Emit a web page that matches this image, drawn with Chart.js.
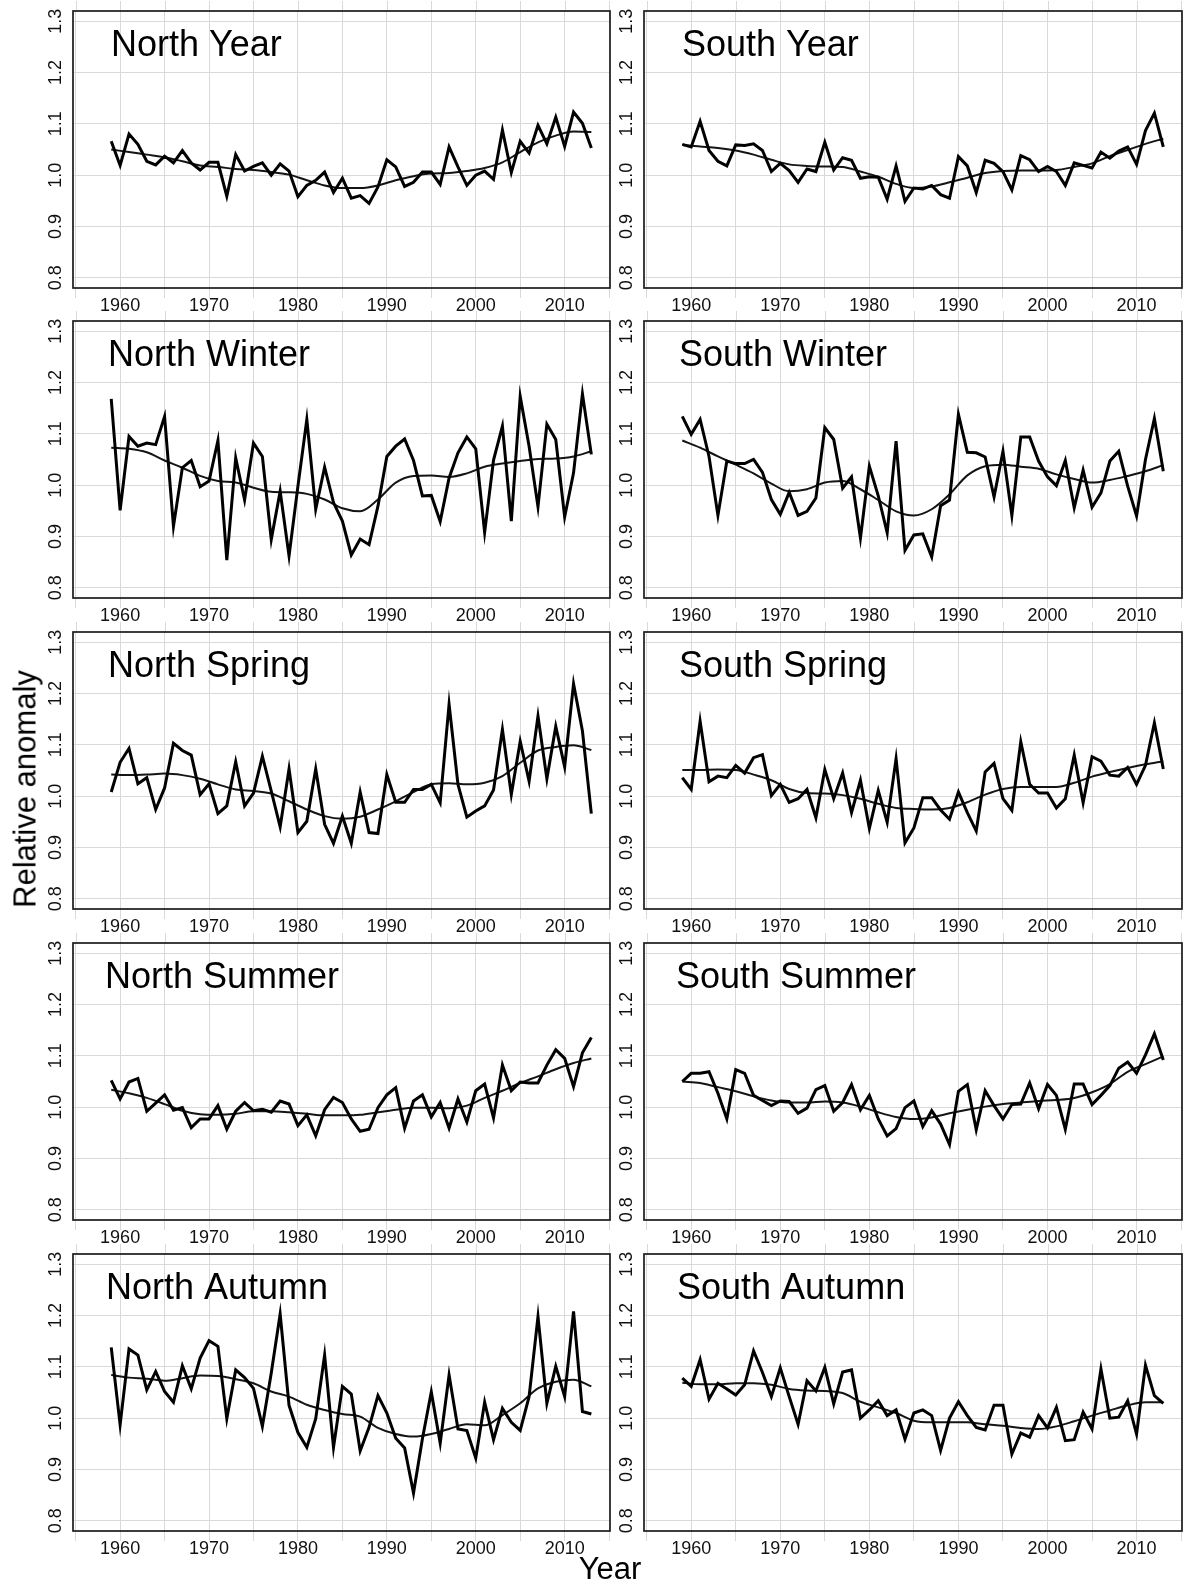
<!DOCTYPE html>
<html><head><meta charset="utf-8">
<script src="https://cdn.jsdelivr.net/npm/chart.js@4"></script>
<style>
html,body{margin:0;padding:0;background:#fff;}
#wrap{position:relative;width:1185px;height:1584px;overflow:hidden;background:#fff;}
#wrap canvas{position:absolute;}
.lab{position:absolute;font-family:"Liberation Sans",Arial,Helvetica,sans-serif;color:#000;white-space:nowrap;line-height:1;font-size:31px;}
</style></head><body><div id="wrap"></div>
<script>
// ---------- DATA ----------
const years = [1959,1960,1961,1962,1963,1964,1965,1966,1967,1968,1969,1970,1971,1972,1973,1974,1975,1976,1977,1978,1979,1980,1981,1982,1983,1984,1985,1986,1987,1988,1989,1990,1991,1992,1993,1994,1995,1996,1997,1998,1999,2000,2001,2002,2003,2004,2005,2006,2007,2008,2009,2010,2011,2012,2013];
const smoothYears = [1959,1961,1963,1965,1967,1969,1971,1973,1975,1977,1979,1981,1983,1985,1987,1989,1991,1993,1995,1997,1999,2001,2003,2005,2007,2009,2011,2013];
const xTickLabels = ['1960','1970','1980','1990','2000','2010'];
const yTickValues = [0.8,0.9,1.0,1.1,1.2,1.3];
const yTickLabels = ['0.8','0.9','1.0','1.1','1.2','1.3'];
const titles = ['North Year','South Year','North Winter','South Winter','North Spring','South Spring','North Summer','South Summer','North Autumn','South Autumn'];

const northYear = [1.066,1.019,1.080,1.060,1.027,1.020,1.037,1.024,1.048,1.024, 1.010,1.025,1.025,0.959,1.040,1.008,1.017,1.024,1.000,1.022, 1.008,0.958,0.980,0.990,1.006,0.966,0.994,0.955,0.960,0.945, 0.977,1.030,1.016,0.978,0.986,1.006,1.006,0.982,1.055,1.016, 0.980,1.000,1.008,0.992,1.088,1.005,1.066,1.043,1.097,1.061, 1.113,1.056,1.123,1.101,1.053];
const northYearSmooth = [1.050,1.045,1.040,1.035,1.027,1.019,1.016,1.012,1.010,1.006,1.001,0.990,0.980,0.975,0.975,0.980,0.990,0.998,1.003,1.004,1.008,1.014,1.025,1.045,1.064,1.077,1.085,1.084];

const southYear = [1.060,1.055,1.105,1.048,1.027,1.018,1.059,1.058,1.061,1.048, 1.007,1.023,1.009,0.986,1.012,1.007,1.064,1.010,1.034,1.029, 0.994,0.997,0.996,0.953,1.018,0.949,0.975,0.973,0.980,0.962, 0.955,1.036,1.018,0.966,1.029,1.023,1.007,0.971,1.038,1.030, 1.007,1.017,1.007,0.980,1.024,1.019,1.014,1.045,1.033,1.047, 1.055,1.021,1.087,1.121,1.055];
const southYearSmooth = [1.059,1.056,1.053,1.048,1.040,1.030,1.021,1.018,1.017,1.016,1.007,0.997,0.983,0.975,0.978,0.986,0.995,1.004,1.008,1.009,1.009,1.010,1.016,1.023,1.037,1.049,1.061,1.071];

const northWinter = [1.168,0.951,1.095,1.076,1.082,1.079,1.134,0.920,1.034,1.048, 0.997,1.008,1.087,0.854,1.053,0.971,1.082,1.056,0.894,0.988, 0.862,0.998,1.128,0.953,1.035,0.966,0.930,0.864,0.895,0.884, 0.959,1.056,1.076,1.090,1.048,0.979,0.980,0.929,1.014,1.063, 1.094,1.071,0.908,1.049,1.115,0.930,1.173,1.076,0.958,1.119, 1.089,0.938,1.024,1.178,1.060];
const northWinterSmooth = [1.073,1.071,1.064,1.048,1.034,1.018,1.008,1.005,0.995,0.987,0.986,0.983,0.972,0.955,0.949,0.972,1.005,1.018,1.019,1.016,1.023,1.036,1.042,1.047,1.051,1.052,1.056,1.066];

const southWinter = [1.134,1.099,1.128,1.056,0.941,1.047,1.042,1.042,1.050,1.025, 0.972,0.943,0.986,0.941,0.949,0.975,1.112,1.089,0.994,1.016, 0.897,1.037,0.979,0.907,1.086,0.873,0.903,0.905,0.860,0.960, 0.971,1.138,1.064,1.063,1.055,0.977,1.066,0.941,1.094,1.094, 1.047,1.016,0.999,1.048,0.956,1.029,0.957,0.985,1.047,1.066, 0.998,0.940,1.050,1.130,1.027];
const southWinterSmooth = [1.087,1.073,1.056,1.040,1.023,1.003,0.988,0.992,1.005,1.008,0.992,0.971,0.949,0.941,0.953,0.982,1.019,1.037,1.040,1.036,1.032,1.021,1.012,1.005,1.010,1.018,1.027,1.039];

const northSpring = [1.008,1.066,1.093,1.024,1.036,0.974,1.016,1.103,1.089,1.080, 1.003,1.024,0.966,0.981,1.067,0.981,1.006,1.078,1.010,0.940, 1.053,0.929,0.951,1.053,0.945,0.908,0.961,0.908,1.008,0.929, 0.927,1.042,0.988,0.988,1.013,1.013,1.023,0.987,1.179,1.023, 0.959,0.971,0.981,1.012,1.130,1.003,1.107,1.029,1.156,1.034, 1.136,1.057,1.219,1.127,0.966];
const northSpringSmooth = [1.042,1.041,1.042,1.044,1.041,1.034,1.023,1.013,1.010,1.005,0.990,0.974,0.961,0.956,0.960,0.974,0.990,1.008,1.023,1.025,1.023,1.026,1.039,1.065,1.089,1.096,1.099,1.090];

const southSpring = [1.036,1.013,1.146,1.028,1.039,1.036,1.060,1.045,1.075,1.081, 1.001,1.023,0.988,0.995,1.013,0.958,1.052,0.995,1.045,0.968, 1.031,0.937,1.011,0.949,1.073,0.909,0.938,0.997,0.997,0.973, 0.955,1.008,0.968,0.932,1.047,1.064,0.995,0.972,1.106,1.023, 1.006,1.006,0.977,0.995,1.080,0.987,1.077,1.068,1.041,1.039, 1.056,1.023,1.060,1.143,1.053];
const southSpringSmooth = [1.051,1.051,1.052,1.051,1.042,1.031,1.014,1.006,1.005,1.002,0.995,0.985,0.977,0.975,0.974,0.977,0.988,1.003,1.014,1.018,1.018,1.018,1.026,1.038,1.047,1.055,1.062,1.068];

const northSummer = [1.052,1.016,1.049,1.056,0.992,1.008,1.024,0.994,0.999,0.960, 0.977,0.977,1.003,0.957,0.992,1.009,0.993,0.996,0.990,1.012, 1.006,0.964,0.985,0.944,0.995,1.019,1.009,0.977,0.953,0.957, 0.999,1.024,1.038,0.959,1.012,1.024,0.981,1.009,0.959,1.016, 0.971,1.032,1.045,0.979,1.082,1.032,1.049,1.047,1.047,1.082, 1.112,1.095,1.040,1.106,1.136];
const northSummerSmooth = [1.034,1.027,1.018,1.006,0.993,0.986,0.985,0.987,0.992,0.992,0.990,0.987,0.984,0.984,0.985,0.990,0.995,0.999,0.999,0.998,1.003,1.018,1.032,1.047,1.060,1.074,1.086,1.095];

const southSummer = [1.050,1.066,1.066,1.069,1.027,0.977,1.073,1.066,1.023,1.013, 1.003,1.012,1.011,0.988,0.998,1.034,1.042,0.992,1.009,1.044, 0.995,1.023,0.977,0.944,0.958,0.999,1.012,0.962,0.993,0.967, 0.927,1.031,1.044,0.956,1.032,1.003,0.977,1.005,1.006,1.047, 0.997,1.044,1.023,0.957,1.045,1.045,1.005,1.023,1.042,1.076, 1.088,1.066,1.102,1.143,1.092];
const southSummerSmooth = [1.050,1.047,1.039,1.031,1.021,1.013,1.009,1.009,1.011,1.009,1.001,0.990,0.981,0.977,0.980,0.988,0.995,1.001,1.006,1.009,1.012,1.014,1.018,1.029,1.045,1.069,1.084,1.099];

const northAutumn = [1.138,0.987,1.135,1.123,1.055,1.091,1.052,1.031,1.102,1.057, 1.117,1.151,1.140,0.999,1.094,1.079,1.058,0.984,1.088,1.203, 1.025,0.972,0.943,0.999,1.123,0.943,1.062,1.047,0.936,0.982, 1.044,1.010,0.961,0.942,0.854,0.960,1.051,0.951,1.084,0.979, 0.976,0.922,1.031,0.958,1.019,0.992,0.976,1.042,1.198,1.029, 1.101,1.042,1.208,1.013,1.008];
const northAutumnSmooth = [1.084,1.079,1.077,1.073,1.078,1.083,1.082,1.076,1.068,1.052,1.042,1.026,1.016,1.008,1.003,0.981,0.969,0.964,0.969,0.979,0.988,0.986,1.006,1.029,1.058,1.071,1.075,1.062];

const southAutumn = [1.078,1.062,1.114,1.037,1.068,1.057,1.045,1.065,1.131,1.089, 1.042,1.098,1.042,0.988,1.073,1.053,1.099,1.028,1.090,1.094, 1.000,1.016,1.034,1.005,1.016,0.959,1.010,1.016,1.005,0.937, 1.000,1.032,1.005,0.982,0.977,1.025,1.025,0.930,0.971,0.963, 1.005,0.981,1.021,0.956,0.958,1.012,0.979,1.096,1.000,1.002, 1.034,0.969,1.103,1.044,1.029];
const southAutumnSmooth = [1.069,1.066,1.066,1.068,1.068,1.065,1.057,1.054,1.053,1.049,1.032,1.021,1.010,0.995,0.992,0.992,0.992,0.988,0.985,0.981,0.979,0.984,0.994,1.005,1.015,1.025,1.031,1.031];

const annualSeries = [northYear,southYear,northWinter,southWinter,northSpring,southSpring,northSummer,southSummer,northAutumn,southAutumn];
const smoothSeries = [northYearSmooth,southYearSmooth,northWinterSmooth,southWinterSmooth,northSpringSmooth,southSpringSmooth,northSummerSmooth,southSummerSmooth,northAutumnSmooth,southAutumnSmooth];

// ---------- LAYOUT ----------
const FONT = '"Liberation Sans", Arial, Helvetica, sans-serif';
const GRID = '#d9d9d9';
const XMIN = 1954.7, XMAX = 2015.1, YMIN = 0.78, YMAX = 1.32;
const LEFTS = [73, 644], WIDTHS = [537, 538], TOPS = [11, 321, 632, 943, 1254], BOXH = 277;
const TITLE_DX = [38, 35, 35, 32, 33];
const ML = 60, MT = 14, MR = 4, MB = 38;

const deco = {
  id: 'deco',
  afterDraw(chart, args, opts) {
    const {ctx, chartArea: a, scales: {x, y}} = chart;
    ctx.save();
    ctx.strokeStyle = GRID; ctx.lineWidth = 1;
    x.ticks.forEach(t => {
      const px = Math.round(x.getPixelForValue(t.value)) + 0.5;
      ctx.beginPath(); ctx.moveTo(px, a.top - 10); ctx.lineTo(px, a.top); ctx.stroke();
    });
    ctx.strokeStyle = '#1c1c1c'; ctx.lineWidth = 1.7;
    ctx.strokeRect(a.left, a.top, a.right - a.left, a.bottom - a.top);
    ctx.fillStyle = '#111'; ctx.font = '18px ' + FONT;
    ctx.textAlign = 'center'; ctx.textBaseline = 'middle';
    yTickValues.forEach((v, i) => {
      const py = y.getPixelForValue(v);
      ctx.save(); ctx.translate(a.left - 17, py); ctx.rotate(-Math.PI / 2);
      ctx.fillText(yTickLabels[i], 0, 0); ctx.restore();
    });
    ctx.fillStyle = '#000'; ctx.font = '36px ' + FONT;
    ctx.textAlign = 'left'; ctx.textBaseline = 'alphabetic';
    ctx.fillText(opts.title, a.left + opts.dx, a.top + 45);
    ctx.restore();
  }
};

const wrap = document.getElementById('wrap');
titles.forEach((title, k) => {
  const row = Math.floor(k / 2), col = k % 2;
  const w = WIDTHS[col] + ML + MR, h = BOXH + MT + MB;
  const c = document.createElement('canvas');
  c.width = w; c.height = h;
  c.style.left = (LEFTS[col] - ML) + 'px'; c.style.top = (TOPS[row] - MT) + 'px';
  c.style.width = w + 'px'; c.style.height = h + 'px';
  wrap.appendChild(c);
  new Chart(c, {
    type: 'line',
    data: { datasets: [
      { data: years.map((yr, i) => ({x: yr, y: annualSeries[k][i]})), borderColor: '#000', borderWidth: 3, pointRadius: 0, tension: 0, borderJoinStyle: 'miter' },
      { data: smoothYears.map((yr, i) => ({x: yr, y: smoothSeries[k][i]})), borderColor: '#141414', borderWidth: 2, pointRadius: 0, cubicInterpolationMode: 'monotone' }
    ]},
    options: {
      responsive: false, animation: false, devicePixelRatio: 1,
      layout: { padding: { left: 0, top: MT, right: MR, bottom: 0 } },
      plugins: { legend: { display: false }, tooltip: { enabled: false }, deco: { title: title, dx: TITLE_DX[row] } },
      scales: {
        x: {
          type: 'linear', min: XMIN, max: XMAX,
          afterFit: s => { s.height = MB; },
          border: { display: false },
          grid: { color: GRID, lineWidth: 1, drawTicks: true, tickLength: 10, tickColor: GRID },
          ticks: { stepSize: 5, includeBounds: false, autoSkip: false, maxRotation: 0, minRotation: 0, padding: -3,
                   color: '#111', font: { family: FONT, size: 18 },
                   callback: v => { const s = String(v); return xTickLabels.includes(s) ? s : ''; } }
        },
        y: {
          min: YMIN, max: YMAX,
          afterFit: s => { s.width = ML; },
          border: { display: false },
          grid: { color: GRID, lineWidth: 1, drawTicks: false },
          ticks: { stepSize: 0.1, includeBounds: false, display: false }
        }
      }
    },
    plugins: [deco]
  });
});

const yl = document.createElement('div');
yl.className = 'lab'; yl.textContent = 'Relative anomaly';
yl.style.left = '25px'; yl.style.top = '789px';
yl.style.transform = 'translate(-50%,-50%) rotate(-90deg)';
wrap.appendChild(yl);
const xl = document.createElement('div');
xl.className = 'lab'; xl.textContent = 'Year';
xl.style.left = '610px'; xl.style.top = '1568px';
xl.style.transform = 'translate(-50%,-50%)';
wrap.appendChild(xl);
</script></body></html>
